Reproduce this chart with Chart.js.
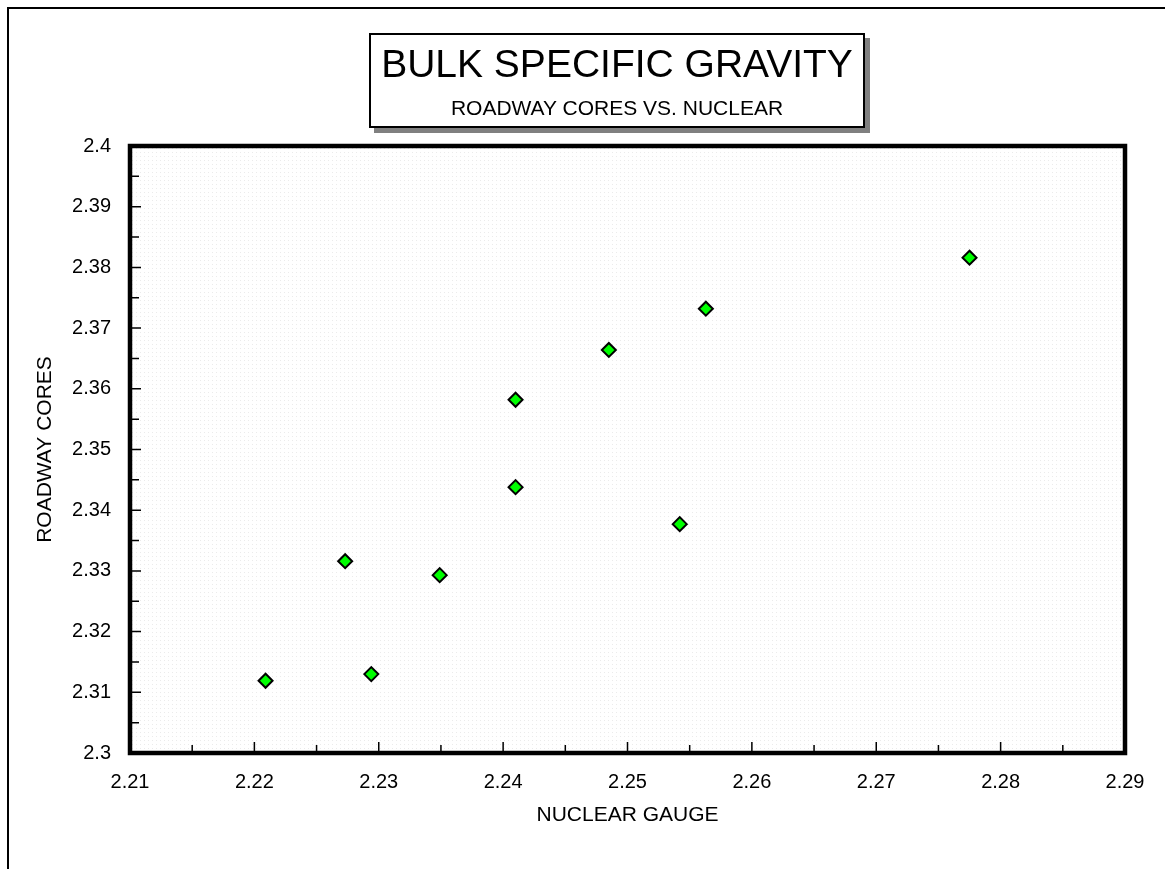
<!DOCTYPE html>
<html>
<head>
<meta charset="utf-8">
<title>Bulk Specific Gravity</title>
<script src="https://cdn.jsdelivr.net/npm/chart.js@4.4.1/dist/chart.umd.min.js"></script>
<style>
  html, body { margin: 0; padding: 0; background: #fff; overflow: hidden; }
  #wrap { position: relative; width: 1165px; height: 869px; }
  canvas { position: absolute; left: 0; top: 0; }
  #frame { position: absolute; left: 7px; top: 7px; width: 1200px; height: 900px; border: 2px solid #000; box-sizing: border-box; }
  #titleBox {
    position: absolute; left: 369px; top: 33px; width: 496px; height: 95px;
    box-sizing: border-box; border: 2px solid #000; background: #fff;
    box-shadow: 5px 5px 0 #808080;
    font-family: 'Liberation Sans', Arial, sans-serif; color: #000; text-align: center;
  }
  #titleBox .main { position: absolute; left: 0; right: 0; top: 9px; font-size: 39px; line-height: 39px; }
  #titleBox .sub { position: absolute; left: 0; right: 0; top: 62px; font-size: 21px; line-height: 21px; }
</style>
</head>
<body>
<div id="wrap">
  <canvas id="sgChart" width="1165" height="869"></canvas>
  <div id="frame"></div>
  <div id="titleBox">
    <div class="main">BULK SPECIFIC GRAVITY</div>
    <div class="sub">ROADWAY CORES VS. NUCLEAR</div>
  </div>
</div>
<script>
// nuclear gauge reading vs. roadway core, one pair per test site
const NUCLEAR = [2.2209, 2.2273, 2.2294, 2.2349, 2.2410, 2.2410, 2.2485, 2.2563, 2.2542, 2.2775];
const CORES   = [2.3119, 2.3316, 2.3130, 2.3293, 2.3582, 2.3438, 2.3664, 2.3732, 2.3377, 2.3816];

const X_TICKS = [2.21, 2.22, 2.23, 2.24, 2.25, 2.26, 2.27, 2.28, 2.29];
const Y_TICKS = [2.3, 2.31, 2.32, 2.33, 2.34, 2.35, 2.36, 2.37, 2.38, 2.39, 2.4];

const FONT_FAMILY = "'Liberation Sans', Arial, sans-serif";

function makeDotPattern(ctx) {
    const c = document.createElement('canvas');
    c.width = 4;
    c.height = 4;
    const p = c.getContext('2d');
    p.fillStyle = '#fff';
    p.fillRect(0, 0, 4, 4);
    p.fillStyle = '#ebebeb';
    p.fillRect(0, 0, 1, 1);
    return ctx.createPattern(c, 'repeat');
}

// dotted plot background, heavy frame and inward tick marks
const plotFrame = {
    id: 'plotFrame',
    beforeDatasetsDraw(chart) {
        const { ctx, chartArea: a } = chart;
        ctx.save();
        ctx.fillStyle = makeDotPattern(ctx);
        ctx.fillRect(a.left, a.top, a.right - a.left, a.bottom - a.top);
        ctx.restore();
    },
    afterDatasetsDraw(chart) {
        const { ctx, chartArea: a, scales } = chart;
        ctx.save();
        ctx.strokeStyle = '#000';
        ctx.lineWidth = 1.5;
        ctx.beginPath();
        X_TICKS.forEach((v, i) => {
            const px = scales.x.getPixelForValue(v);
            ctx.moveTo(px, a.bottom);
            ctx.lineTo(px, a.bottom - 11);
            if (i < X_TICKS.length - 1) {
                const mx = scales.x.getPixelForValue((v + X_TICKS[i + 1]) / 2);
                ctx.moveTo(mx, a.bottom);
                ctx.lineTo(mx, a.bottom - 8);
            }
        });
        Y_TICKS.forEach((v, i) => {
            const py = scales.y.getPixelForValue(v);
            ctx.moveTo(a.left, py);
            ctx.lineTo(a.left + 11, py);
            if (i < Y_TICKS.length - 1) {
                const my = scales.y.getPixelForValue((v + Y_TICKS[i + 1]) / 2);
                ctx.moveTo(a.left, my);
                ctx.lineTo(a.left + 9, my);
            }
        });
        ctx.stroke();
        ctx.lineWidth = 4.5;
        ctx.strokeRect(a.left, a.top, a.right - a.left, a.bottom - a.top);
        ctx.restore();
    }
};

function renderScatter() {
    const ctx = document.getElementById('sgChart');
    const tickFont = { family: FONT_FAMILY, size: 20 };
    const titleFont = { family: FONT_FAMILY, size: 21 };
    new Chart(ctx, {
        type: 'scatter',
        data: {
            datasets: [{
                label: 'Roadway cores vs. nuclear',
                data: NUCLEAR.map((x, i) => ({ x, y: CORES[i] })),
                pointStyle: 'rectRot',
                pointRadius: 7,
                backgroundColor: '#00ff00',
                borderColor: '#000',
                borderWidth: 2,
            }]
        },
        options: {
            responsive: false,
            animation: false,
            events: [],
            layout: { padding: { top: 146, right: 40, left: 0, bottom: 0 } },
            plugins: { legend: { display: false }, tooltip: { enabled: false } },
            scales: {
                x: {
                    type: 'linear',
                    min: X_TICKS[0],
                    max: X_TICKS[X_TICKS.length - 1],
                    afterBuildTicks: s => { s.ticks = X_TICKS.map(v => ({ value: v })); },
                    afterFit: s => { s.height = 116; },
                    ticks: { color: '#000', font: tickFont, padding: 17, maxRotation: 0, autoSkip: false, callback: v => String(v) },
                    grid: { display: false, drawTicks: false },
                    border: { display: false },
                    title: { display: true, text: 'NUCLEAR GAUGE', color: '#000', font: titleFont, padding: { top: 0, bottom: 41 } }
                },
                y: {
                    type: 'linear',
                    min: Y_TICKS[0],
                    max: Y_TICKS[Y_TICKS.length - 1],
                    afterBuildTicks: s => { s.ticks = Y_TICKS.map(v => ({ value: v })); },
                    afterFit: s => { s.width = 130; },
                    ticks: { color: '#000', font: tickFont, padding: 19, autoSkip: false, callback: v => String(v) },
                    grid: { display: false, drawTicks: false },
                    border: { display: false },
                    title: { display: true, text: 'ROADWAY CORES', color: '#000', font: titleFont, padding: { top: 33, bottom: 0 } }
                }
            }
        },
        plugins: [plotFrame]
    });
}

renderScatter();
</script>
</body>
</html>
